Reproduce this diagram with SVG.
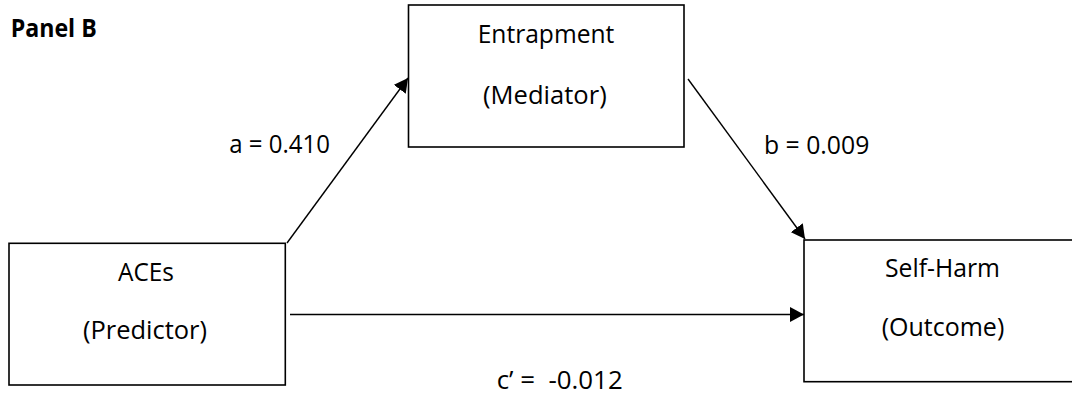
<svg xmlns="http://www.w3.org/2000/svg" width="1072" height="399" viewBox="0 0 1072 399">
  <defs>
    <marker id="arrow" viewBox="0 0 14 15" refX="14" refY="7.5" markerWidth="14" markerHeight="15" markerUnits="userSpaceOnUse" orient="auto">
      <path d="M0,0 L14,7.5 L0,15 Z" fill="#000"/>
    </marker>
    <style>
      .box { fill: #fff; stroke: #000; stroke-width: 1.6; }
      .edge { fill: none; stroke: #000; stroke-width: 1.4; marker-end: url(#arrow); }
      text { font-family: "Open Sans", "Noto Sans", "Liberation Sans", sans-serif; font-size: 25px; fill: #000; }
      .title { font-weight: bold; }
    </style>
  </defs>
  <rect width="1072" height="399" fill="#fff"/>

  <text class="title" x="10.7" y="37" textLength="86" lengthAdjust="spacingAndGlyphs">Panel B</text>

  <!-- path model connectors -->
  <g id="connectors">
    <line class="edge" x1="287" y1="243" x2="408" y2="78"/>
    <line class="edge" x1="688" y1="79" x2="805" y2="239"/>
    <line class="edge" x1="290" y1="314.5" x2="804" y2="314.5"/>
    <text x="229.3" y="153" textLength="100.7" lengthAdjust="spacingAndGlyphs">a = 0.410</text>
    <text x="764" y="154" textLength="105.3" lengthAdjust="spacingAndGlyphs">b = 0.009</text>
    <text x="496.7" y="389" textLength="126" lengthAdjust="spacingAndGlyphs">c’ =&#160; -0.012</text>
  </g>

  <g id="mediator">
    <rect class="box" x="408.5" y="5" width="275.5" height="142"/>
    <text x="477.7" y="43.3" textLength="136.6" lengthAdjust="spacingAndGlyphs">Entrapment</text>
    <text x="483" y="104" textLength="123.7" lengthAdjust="spacingAndGlyphs">(Mediator)</text>
  </g>

  <g id="predictor">
    <rect class="box" x="9" y="243.3" width="276.3" height="141.7"/>
    <text x="118" y="281" textLength="56" lengthAdjust="spacingAndGlyphs">ACEs</text>
    <text x="83" y="339" textLength="124" lengthAdjust="spacingAndGlyphs">(Predictor)</text>
  </g>

  <g id="outcome">
    <rect class="box" x="804" y="240" width="290" height="141.7"/>
    <text x="885" y="277.3" textLength="115" lengthAdjust="spacingAndGlyphs">Self-Harm</text>
    <text x="881.7" y="336" textLength="122.6" lengthAdjust="spacingAndGlyphs">(Outcome)</text>
  </g>
</svg>
